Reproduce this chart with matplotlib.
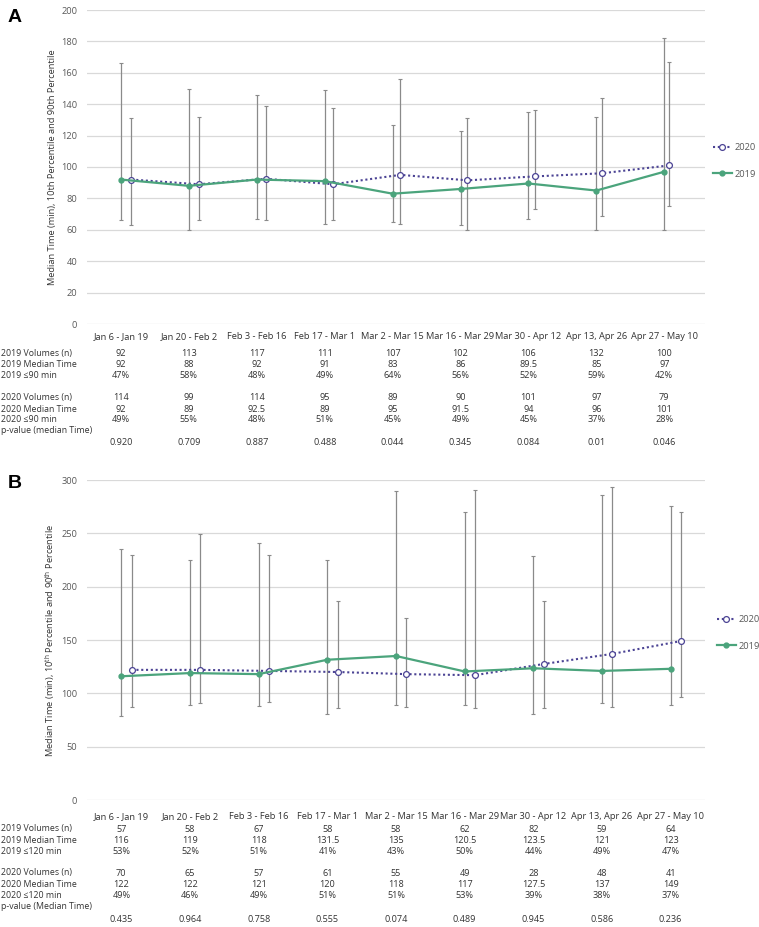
import matplotlib
matplotlib.use("Agg")
import matplotlib.pyplot as plt
import matplotlib.transforms as mtrans
from matplotlib.lines import Line2D
import numpy as np

plt.rcParams['font.family'] = ['Open Sans', 'DejaVu Sans']
plt.rcParams['mathtext.fontset'] = 'custom'
plt.rcParams['mathtext.rm'] = 'Open Sans'

W, H = 759, 927

periods = ["Jan 6 - Jan 19", "Jan 20 - Feb 2", "Feb 3 - Feb 16", "Feb 17 - Mar 1",
           "Mar 2 - Mar 15", "Mar 16 - Mar 29", "Mar 30 - Apr 12", "Apr 13, Apr 26",
           "Apr 27 - May 10"]

# Panel A (threshold 90 min)
a_med_2019 = [92, 88, 92, 91, 83, 86, 89.5, 85, 97]
a_p10_2019 = [66, 60, 67, 64, 65, 63, 67, 60, 60]
a_p90_2019 = [166, 150, 146, 149, 127, 123, 135, 132, 182]
a_med_2020 = [92, 89, 92.5, 89, 95, 91.5, 94, 96, 101]
a_p10_2020 = [63, 66, 66, 66, 64, 60, 73.5, 69, 75]
a_p90_2020 = [131, 132, 139, 137.5, 156, 131, 136, 144, 167]
a_vol_2019 = ["92", "113", "117", "111", "107", "102", "106", "132", "100"]
a_pct_2019 = ["47%", "58%", "48%", "49%", "64%", "56%", "52%", "59%", "42%"]
a_vol_2020 = ["114", "99", "114", "95", "89", "90", "101", "97", "79"]
a_pct_2020 = ["49%", "55%", "48%", "51%", "45%", "49%", "45%", "37%", "28%"]
a_pval = ["0.920", "0.709", "0.887", "0.488", "0.044", "0.345", "0.084", "0.01", "0.046"]

# Panel B (threshold 120 min)
b_med_2019 = [116, 119, 118, 131.5, 135, 120.5, 123.5, 121, 123]
b_p10_2019 = [79, 89, 88, 81, 89, 89, 81, 91, 89]
b_p90_2019 = [235, 225, 241, 225, 290, 270, 229, 286, 276]
b_med_2020 = [122, 122, 121, 120, 118, 117, 127.5, 137, 149]
b_p10_2020 = [87, 91, 92, 86, 87, 86, 86, 87, 97]
b_p90_2020 = [230, 249, 230, 187, 171, 291, 187, 293, 270]
b_vol_2019 = ["57", "58", "67", "58", "58", "62", "82", "59", "64"]
b_pct_2019 = ["53%", "52%", "51%", "41%", "43%", "50%", "44%", "49%", "47%"]
b_vol_2020 = ["70", "65", "57", "61", "55", "49", "28", "48", "41"]
b_pct_2020 = ["49%", "46%", "49%", "51%", "51%", "53%", "39%", "38%", "37%"]
b_pval = ["0.435", "0.964", "0.758", "0.555", "0.074", "0.489", "0.945", "0.586", "0.236"]

GREEN = '#4BA47C'
PURPLE = '#4B4394'
BAR = '#8a8a8a'
TXT = '#333333'
TICK = '#595959'


def fy(ypx):
    return 1 - ypx / H


def draw_panel(fig, rect_px, xlim, ymax, ystep, ylabel, letter, letter_y,
               med19, p10_19, p90_19, med20, p10_20, p90_20, shift, drift,
               rows, row_y, tick_pad, legend_y, legend_x):
    x0, y0, x1, y1 = rect_px
    ax = fig.add_axes([x0 / W, fy(y1), (x1 - x0) / W, (y1 - y0) / H])
    x = np.arange(len(periods))
    x20 = x + shift - drift * x

    med19, med20 = np.array(med19), np.array(med20)
    ax.errorbar(x, med19, yerr=[med19 - np.array(p10_19), np.array(p90_19) - med19],
                fmt='none', ecolor=BAR, elinewidth=0.9, capsize=1.6, capthick=0.8, zorder=2)
    ax.errorbar(x20, med20, yerr=[med20 - np.array(p10_20), np.array(p90_20) - med20],
                fmt='none', ecolor=BAR, elinewidth=0.9, capsize=1.6, capthick=0.8, zorder=2)
    ax.plot(x20, med20, color=PURPLE, ls=(0, (1, 1.3)), lw=1.5, marker='o', ms=4.2,
            mfc='white', mec=PURPLE, mew=0.9, zorder=3)
    ax.plot(x, med19, color=GREEN, lw=1.6, marker='o', ms=3.5, mfc=GREEN, mec=GREEN, zorder=4)

    ax.set_xlim(*xlim)
    ax.set_ylim(0, ymax)
    ax.set_yticks(np.arange(0, ymax + 1, ystep))
    ax.grid(axis='y', color='#d9d9d9', lw=0.9)
    ax.set_axisbelow(True)
    for s in ax.spines.values():
        s.set_visible(False)
    ax.set_xticks(x, periods)
    ax.tick_params(axis='x', length=0, pad=tick_pad, labelsize=6.7, labelcolor=TXT)
    ax.tick_params(axis='y', length=0, pad=7, labelsize=6.7, labelcolor=TICK)
    ax.set_ylabel(ylabel, fontsize=6.7, color=TXT)
    ax.yaxis.set_label_coords((57 - x0) / (x1 - x0), 0.5)

    fig.text(8 / W, fy(letter_y), letter, fontsize=14, fontweight='bold',
             family='Liberation Sans', va='center', ha='left')

    handles = [Line2D([], [], color=PURPLE, ls=(0, (1, 1.3)), lw=1.5, marker='o', ms=4.2,
                      mfc='white', mec=PURPLE, mew=0.9),
               Line2D([], [], color=GREEN, lw=1.6, marker='o', ms=3.5, mfc=GREEN, mec=GREEN)]
    ax.legend(handles, ['2020', '2019'], loc='center left', frameon=False,
              bbox_to_anchor=(legend_x / W, fy(legend_y)), bbox_transform=fig.transFigure,
              fontsize=6.7, handlelength=2.1, handletextpad=0.3, labelspacing=1.85,
              borderpad=0, labelcolor=TICK)

    tr = mtrans.blended_transform_factory(ax.transData, fig.transFigure)
    for (label, vals), ypx in zip(rows, row_y):
        if label:
            fig.text(1 / W, fy(ypx), label, fontsize=6.3, color=TXT, va='center', ha='left')
        if vals is not None:
            for xi, v in zip(x, vals):
                ax.text(xi, fy(ypx), v, transform=tr, fontsize=6.6, color=TXT,
                        va='center', ha='center')
    return ax


fig = plt.figure(figsize=(W / 100, H / 100), dpi=100)

rows_a = [("2019 Volumes (n)", a_vol_2019),
          ("2019 Median Time", [f"{v:g}" for v in a_med_2019]),
          ("2019 \u226490 min", a_pct_2019),
          ("2020 Volumes (n)", a_vol_2020),
          ("2020 Median Time", [f"{v:g}" for v in a_med_2020]),
          ("2020 \u226490 min", a_pct_2020),
          ("p-value (median Time)", None),
          ("", a_pval)]
draw_panel(fig, (87, 10, 705, 324), (-0.5, 8.6), 200, 20,
           "Median Time (min), 10th Percentile and 90th Percentile", "A", 17,
           a_med_2019, a_p10_2019, a_p90_2019, a_med_2020, a_p10_2020, a_p90_2020,
           0.155, 0.0105, rows_a, [353.3, 364.7, 375.7, 397.7, 409, 420, 430.7, 442],
           5.5, 161, 708)

rows_b = [("2019 Volumes (n)", b_vol_2019),
          ("2019 Median Time", [f"{v:g}" for v in b_med_2019]),
          ("2019 \u2264120 min", b_pct_2019),
          ("2020 Volumes (n)", b_vol_2020),
          ("2020 Median Time", [f"{v:g}" for v in b_med_2020]),
          ("2020 \u2264120 min", b_pct_2020),
          ("p-value (Median Time)", None),
          ("", b_pval)]
draw_panel(fig, (87, 480, 705, 800), (-0.5, 8.5), 300, 50,
           r"Median Time (min), 10$^{\mathrm{th}}$ Percentile and 90$^{\mathrm{th}}$ Percentile",
           "B", 483,
           b_med_2019, b_p10_2019, b_p90_2019, b_med_2020, b_p10_2020, b_p90_2020,
           0.15, 0.0, rows_b, [829, 840.3, 851, 873, 884.3, 895.7, 906.7, 919],
           8.5, 633, 712)

fig.savefig("out.png", dpi=100, facecolor='white')
